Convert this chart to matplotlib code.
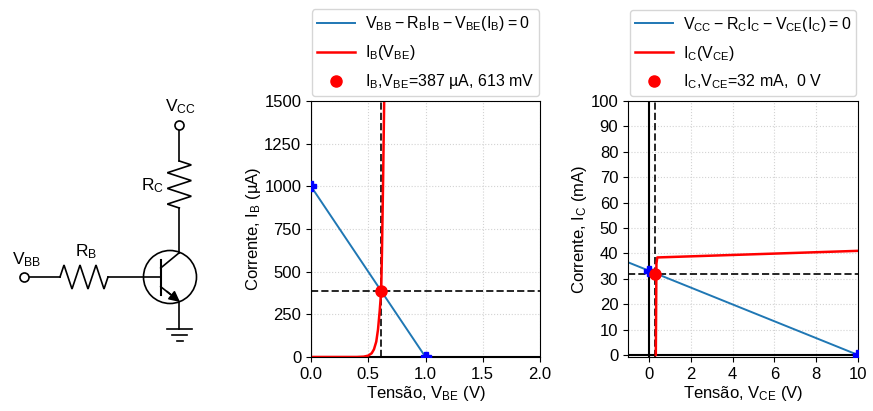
"""
    Load lines and operating points of a bipolar transistor, next to the
    circuit schematic.
"""

import matplotlib
matplotlib.use('Agg')
import matplotlib.pyplot as plt
import numpy as np

plt.rcParams['font.family'] = ['Liberation Sans', 'DejaVu Sans']
plt.rcParams['mathtext.default'] = 'regular'
plt.rcParams['font.size'] = 12

# base circuit
vbb_load_v = [0.0, 1.0]
vbb_load_i = [1000, 0]
ib_curve_v = [0.0, 0.40, 0.46, 0.50, 0.53, 0.55, 0.57, 0.585, 0.60, 0.613, 0.62, 0.63, 0.64]
ib_curve_i = [0, 0, 2, 8, 22, 45, 90, 160, 270, 387, 620, 1050, 1550]
vbe_q, ib_q = 0.613, 387
base_ends_v = [0.0, 1.0]
base_ends_i = [1000, 0]

# collector circuit
vcc_load_v = [-1.0, 10.0]
vcc_load_i = [36.5, 0]
ic_curve_v = [0.33, 0.36, 0.40, 10.0]
ic_curve_i = [0, 36, 38.4, 41]
vce_q, ic_q = 0.29, 32.0
coll_ends_v = [0.0, 10.0]
coll_ends_i = [33.2, 0]

W, H = 873, 411


def add_axes_px(left, right, top, bottom):
    return fig.add_axes([left / W, 1 - bottom / H, (right - left) / W, (bottom - top) / H])


def draw_zigzag(ax, x0, y0, x1, y1, amp, n=3):
    # resistor symbol between two points, n full teeth
    t = np.linspace(0, 1, 2 * n + 1)
    xs = x0 + (x1 - x0) * t
    ys = y0 + (y1 - y0) * t
    # perpendicular offset, alternating
    dx, dy = x1 - x0, y1 - y0
    norm = np.hypot(dx, dy)
    px, py = -dy / norm, dx / norm
    xout, yout = [x0], [y0]
    for i in range(2 * n):
        xm = (xs[i] + xs[i + 1]) / 2
        ym = (ys[i] + ys[i + 1]) / 2
        sign = 1 if i % 2 == 0 else -1
        xout.append(xm + sign * amp * px)
        yout.append(ym + sign * amp * py)
    xout.append(x1)
    yout.append(y1)
    ax.plot(xout, yout, color='k', lw=1.2, solid_joinstyle='miter')


def draw_circuit(ax):
    ax.set_xlim(0, W)
    ax.set_ylim(H, 0)
    ax.axis('off')
    wire = dict(color='k', lw=1.2)

    ax.plot([24, 60], [277, 277], **wire)
    draw_zigzag(ax, 60, 277, 108, 277, -12)
    ax.plot([108, 160.7], [277, 277], **wire)

    ax.add_patch(plt.Circle((170, 277), 26.5, fill=False, ec='k', lw=1.2))
    ax.plot([160.7, 160.7], [260, 295], color='k', lw=1.5)
    ax.plot([160.7, 179.3], [268, 252.7], **wire)
    ax.plot([179.3, 179.3], [252.7, 208], **wire)
    draw_zigzag(ax, 179.3, 208, 179.3, 161, -12)
    ax.plot([179.3, 179.3], [161, 125], **wire)

    ax.plot([160.7, 170], [286.7, 294], **wire)
    ax.annotate('', xy=(180, 302), xytext=(167, 291.5),
                arrowprops=dict(arrowstyle='-|>', color='k', lw=1.2, mutation_scale=16, shrinkA=0, shrinkB=0))
    ax.plot([179.3, 179.3], [301.7, 329], **wire)
    ax.plot([167, 192], [329, 329], **wire)
    ax.plot([172, 187], [335, 335], **wire)
    ax.plot([177, 183], [340.7, 340.7], **wire)

    ax.plot([24, 179.3], [277, 125], 'o', ms=6.5, mfc='white', mec='k', mew=1.2, zorder=3, ls='none')

    ax.text(12, 264, r'$V_{BB}$', fontsize=12.5, va='baseline')
    ax.text(75, 256, r'$R_{B}$', fontsize=12.5, va='baseline')
    ax.text(165, 111, r'$V_{CC}$', fontsize=12.5, va='baseline')
    ax.text(141, 190, r'$R_{C}$', fontsize=12.5, va='baseline')


def style_axes(ax):
    ax.grid(True, color='lightgray', ls=':', lw=0.8)
    ax.set_axisbelow(True)


def add_legend(ax):
    ax.legend(loc='lower center', bbox_to_anchor=(0.5, 1.0), fontsize=11.5, borderaxespad=0.3,
              labelspacing=0.63, handlelength=2.4, borderpad=0.3, handletextpad=0.6)


fig = plt.figure(figsize=(W / 100, H / 100), dpi=100)

draw_circuit(fig.add_axes([0, 0, 1, 1]))

# left panel, base mesh
ax1 = add_axes_px(311, 540, 101, 357)
ax1.axhline(0, color='k', lw=1.5)
ax1.axvline(0, color='k', lw=1.5)
ax1.axhline(ib_q, color='k', ls='--', lw=1.4, alpha=0.85)
ax1.axvline(vbe_q, color='k', ls='--', lw=1.4, alpha=0.85)
ax1.plot(vbb_load_v, vbb_load_i, color='C0', lw=1.4,
         label=r'$V_{BB}-R_{B}I_{B}-V_{BE}(I_{B})=0$')
ax1.plot(ib_curve_v, ib_curve_i, color='red', lw=1.8, label=r'$I_{B}(V_{BE})$')
ax1.plot(vbe_q, ib_q, 'o', color='red', ms=8, zorder=5,
         label=r'$I_{B}$,$V_{BE}$=387 µA, 613 mV')
ax1.plot(base_ends_v, base_ends_i, 'P', color='blue', ms=7.5, ls='none', zorder=4)
ax1.set_xlim(0, 2)
ax1.set_ylim(0, 1500)
ax1.set_xticks([0, 0.5, 1.0, 1.5, 2.0])
ax1.set_yticks([0, 250, 500, 750, 1000, 1250, 1500])
ax1.set_xlabel(r'Tensão, $V_{BE}$ (V)', labelpad=1.5)
ax1.set_ylabel(r'Corrente, $I_{B}$ (µA)', labelpad=1)
style_axes(ax1)
add_legend(ax1)

# right panel, collector mesh
ax2 = add_axes_px(628, 858, 101, 357)
ax2.axhline(0, color='k', lw=1.5)
ax2.axvline(0, color='k', lw=1.5)
ax2.axhline(ic_q, color='k', ls='--', lw=1.4, alpha=0.85)
ax2.axvline(vce_q, color='k', ls='--', lw=1.4, alpha=0.85)
ax2.plot(vcc_load_v, vcc_load_i, color='C0', lw=1.4,
         label=r'$V_{CC}-R_{C}I_{C}-V_{CE}(I_{C})=0$')
ax2.plot(ic_curve_v, ic_curve_i, color='red', lw=1.8, label=r'$I_{C}(V_{CE})$')
ax2.plot(vce_q, ic_q, 'o', color='red', ms=8, zorder=5,
         label=r'$I_{C}$,$V_{CE}$=32 mA,  0 V')
ax2.plot(coll_ends_v, coll_ends_i, 'P', color='blue', ms=7.5, ls='none', zorder=4)
ax2.set_xlim(-1, 10)
ax2.set_ylim(-0.8, 100)
ax2.set_xticks([0, 2, 4, 6, 8, 10])
ax2.set_yticks(np.arange(0, 101, 10))
ax2.set_xlabel(r'Tensão, $V_{CE}$ (V)', labelpad=1.5)
ax2.set_ylabel(r'Corrente, $I_{C}$ (mA)', labelpad=1)
style_axes(ax2)
add_legend(ax2)

fig.savefig('out.png', dpi=100)
